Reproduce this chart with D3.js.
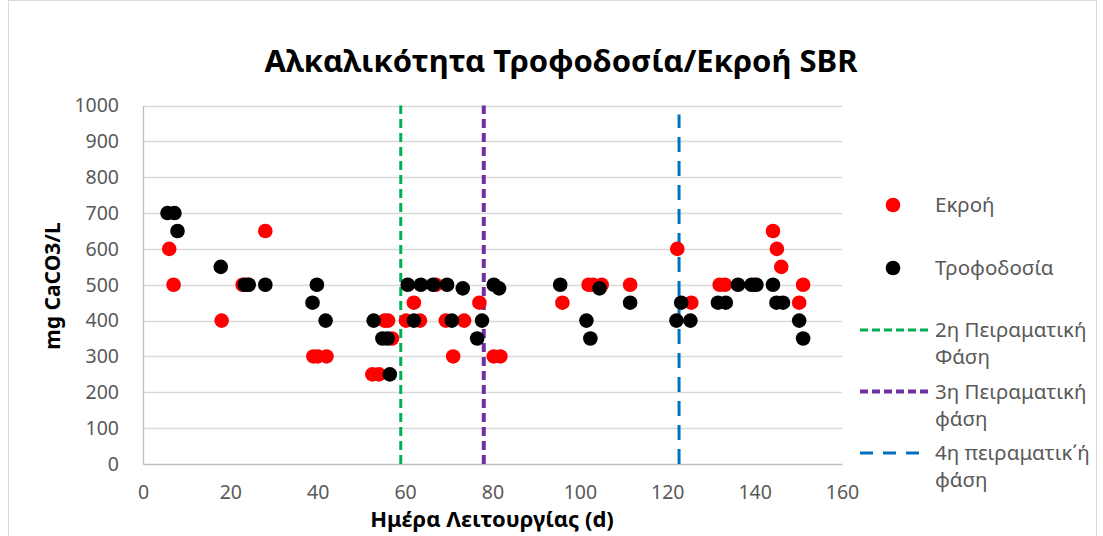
<!DOCTYPE html>
<html>
<head>
<meta charset="utf-8">
<script src="https://cdn.jsdelivr.net/npm/d3@7"></script>
<style>
  body { margin: 0; background: #fff; }
  text { font-family: "Noto Sans", "Open Sans", sans-serif; }
</style>
</head>
<body>
<div id="chart"></div>
<script>
// Εκροή (effluent)
const outDays = [6, 7, 18, 22.8, 24, 28, 39, 40, 42, 52.5, 54, 55.3, 56.1, 57, 60.2, 62, 63.4, 67, 69.3, 71, 73.5, 77, 80.3, 81.8,
  96, 102, 103, 105, 111.5, 122.3, 125.5, 132, 133.2, 140, 144.2, 145.1, 146.1, 150.2, 151.1];
const outVals = [600, 500, 400, 500, 500, 650, 300, 300, 300, 250, 250, 400, 400, 350, 400, 450, 400, 500, 400, 300, 400, 450, 300, 300,
  450, 500, 500, 500, 500, 600, 450, 500, 500, 500, 650, 600, 550, 450, 500];
// Τροφοδοσία (feed)
const feedDays = [5.6, 7.2, 7.9, 17.8, 23.3, 24.2, 28, 38.8, 39.8, 41.8, 52.8, 54.8, 56, 56.5, 60.6, 62, 63.6, 66.4, 69.6, 70.7, 73.2, 76.5, 77.6, 80.3, 81.5,
  95.5, 101.5, 102.4, 104.5, 111.5, 122.1, 123.2, 125.3, 131.6, 133.4, 136.2, 139.3, 140.4, 144.2, 145, 146.5, 150.2, 151.1];
const feedVals = [700, 700, 650, 550, 500, 500, 500, 450, 500, 400, 400, 350, 350, 250, 500, 400, 500, 500, 500, 400, 490, 350, 400, 500, 490,
  500, 400, 350, 490, 450, 400, 450, 400, 450, 450, 500, 500, 500, 500, 450, 450, 400, 350];
// phase markers
const phaseDays = [59, 78, 122.7];
const phaseTops = [1000, 1000, 975];
const phaseNames = [["2η Πειραματική", "Φάση"], ["3η Πειραματική", "φάση"], ["4η πειραματικ΄ή", "φάση"]];
const phaseColors = ["#00B050", "#7030A0", "#0070C0"];
const phaseDash = ["9,5", "9,5", "15,9"];
const yTicks = d3.range(0, 1001, 100);
const xTicks = d3.range(0, 161, 20);

const W = 1103, H = 536;
const svg = d3.select("#chart").append("svg").attr("width", W).attr("height", H);

// chart area border
svg.append("rect").attr("x", 8.5).attr("y", 0.5).attr("width", 1088).attr("height", 560)
  .attr("fill", "none").attr("stroke", "#d9d9d9");

const x = d3.scaleLinear().domain([0, 160]).range([143, 842]);
const y = d3.scaleLinear().domain([0, 1000]).range([464, 105.5]);

// gridlines
svg.append("g").selectAll("line").data(yTicks.slice(1)).enter().append("line")
  .attr("x1", x(0)).attr("x2", x(160))
  .attr("y1", d => Math.round(y(d)) + 0.5).attr("y2", d => Math.round(y(d)) + 0.5)
  .attr("stroke", "#d9d9d9").attr("stroke-width", 1.3);

// axes
const yAxis = svg.append("g").attr("transform", `translate(${x(0)},0)`)
  .call(d3.axisLeft(y).tickValues(yTicks).tickFormat(d3.format("d")).tickSize(0).tickPadding(24));
yAxis.select(".domain").attr("stroke", "#bfbfbf").attr("stroke-width", 1.3);
yAxis.selectAll("text").attr("fill", "#595959").style("font-size", "19.5px");

const xAxis = svg.append("g").attr("transform", `translate(0,${y(0)})`)
  .call(d3.axisBottom(x).tickValues(xTicks).tickSize(0).tickPadding(21));
xAxis.select(".domain").attr("stroke", "#bfbfbf").attr("stroke-width", 1.3);
xAxis.selectAll("text").attr("fill", "#595959").style("font-size", "19.5px");

// phase lines
svg.append("g").selectAll("line").data(phaseDays).enter().append("line")
  .attr("x1", d => x(d)).attr("x2", d => x(d))
  .attr("y1", y(0)).attr("y2", (d, i) => y(phaseTops[i]))
  .attr("stroke", (d, i) => phaseColors[i])
  .attr("stroke-width", (d, i) => i === 1 ? 4 : 3)
  .attr("stroke-dasharray", (d, i) => phaseDash[i]);

// points
svg.append("g").selectAll("circle").data(outDays).enter().append("circle")
  .attr("cx", d => x(d)).attr("cy", (d, i) => y(outVals[i])).attr("r", 7.3).attr("fill", "#FF0000");
svg.append("g").selectAll("circle").data(feedDays).enter().append("circle")
  .attr("cx", d => x(d)).attr("cy", (d, i) => y(feedVals[i])).attr("r", 7.3).attr("fill", "#000000");

// titles
svg.append("text").attr("x", 561).attr("y", 72).attr("text-anchor", "middle")
  .style("font-size", "31px").style("font-weight", "bold").attr("fill", "#000")
  .text("Αλκαλικότητα Τροφοδοσία/Εκροή SBR");
svg.append("text").attr("transform", "translate(60,286) rotate(-90)").attr("text-anchor", "middle")
  .style("font-size", "21px").style("font-weight", "bold").attr("fill", "#000")
  .text("mg CaCO3/L");
svg.append("text").attr("x", 492).attr("y", 527).attr("text-anchor", "middle")
  .style("font-size", "22px").style("font-weight", "bold").attr("fill", "#000")
  .text("Ημέρα Λειτουργίας (d)");

// legend
const leg = svg.append("g");
leg.append("circle").attr("cx", 893).attr("cy", 205).attr("r", 7.3).attr("fill", "#FF0000");
leg.append("text").attr("x", 935).attr("y", 212).attr("fill", "#595959").style("font-size", "20.5px").text("Εκροή");
leg.append("circle").attr("cx", 893).attr("cy", 268).attr("r", 7.3).attr("fill", "#000");
leg.append("text").attr("x", 935).attr("y", 275).attr("fill", "#595959").style("font-size", "20.5px").text("Τροφοδοσία");

phaseNames.forEach((lines, i) => {
  const ly = 330 + i * 61.5;
  leg.append("line").attr("x1", 860).attr("x2", 928).attr("y1", ly).attr("y2", ly)
    .attr("stroke", phaseColors[i]).attr("stroke-width", i === 1 ? 4 : 3)
    .attr("stroke-dasharray", i === 2 ? "13,10" : "8,4");
  lines.forEach((t, j) => {
    leg.append("text").attr("x", 935).attr("y", ly + 7 + j * 27)
      .attr("fill", "#595959").style("font-size", "20.5px").text(t);
  });
});
</script>
</body>
</html>
